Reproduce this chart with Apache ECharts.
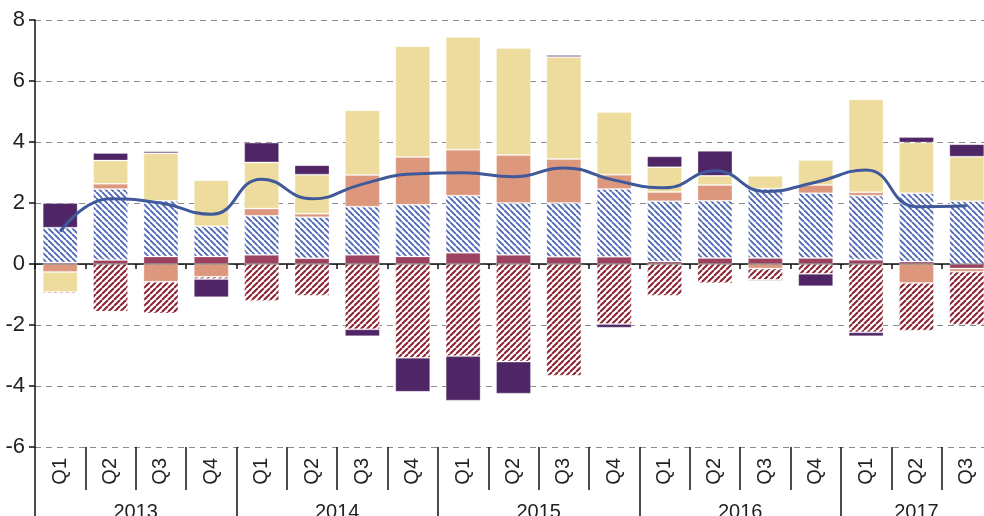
<!DOCTYPE html>
<html>
<head>
<meta charset="utf-8">
<script src="https://cdn.jsdelivr.net/npm/echarts@6/dist/echarts.min.js"></script>
<style>
html,body{margin:0;padding:0;background:#fff;}
#main{width:984px;height:516px;}
</style>
</head>
<body>
<div id="main"></div>
<script>
// quarters 2013Q1 .. 2017Q3
var quarters = ['Q1','Q2','Q3','Q4','Q1','Q2','Q3','Q4','Q1','Q2','Q3','Q4','Q1','Q2','Q3','Q4','Q1','Q2','Q3'];
var years = ['2013','2014','2015','2016','2017'];
var yearQuarters = [4,4,4,4,3];

var solidRed   = [0.05,0.13,0.25,0.25, 0.30,0.19,0.30,0.25, 0.37,0.30,0.24,0.24, 0.08,0.20,0.20,0.20, 0.14,0.08,-0.15];
var blueHatch  = [1.14,2.33,1.82,0.99, 1.28,1.34,1.58,1.69, 1.87,1.70,1.76,2.22, 1.98,1.87,2.27,2.12, 2.10,2.24,2.06];
var salmon     = [-0.26,0.17,-0.58,-0.42, 0.24,0.12,1.04,1.57, 1.51,1.57,1.44,0.47, 0.30,0.52,-0.15,0.27, 0.11,-0.62,-0.10];
var yellow     = [-0.66,0.76,1.56,1.51, 1.51,1.28,2.12,3.63, 3.69,3.51,3.35,2.05, 0.81,0.30,0.42,0.82, 3.05,1.66,1.46];
var redHatch   = [-0.05,-1.56,-1.04,-0.07, -1.21,-1.04,-2.14,-3.07, -3.02,-3.20,-3.66,-1.97, -1.04,-0.63,-0.37,-0.32, -2.24,-1.57,-1.75];
var purple     = [0.81,0.25,0.07,-0.60, 0.65,0.31,-0.23,-1.12, -1.46,-1.05,0.06,-0.12, 0.36,0.82,-0.04,-0.41, -0.13,0.18,0.41];
var total      = [1.06,2.14,2.00,1.63, 2.78,2.14,2.62,2.95, 2.99,2.86,3.15,2.75, 2.50,3.06,2.38,2.68, 3.08,1.88,1.91];

var yMin = -6, yMax = 8, yStep = 2;

// year boundaries and centres, counted in quarters
var yearBounds = [0], yearCenters = [];
for (var i = 0; i < yearQuarters.length; i++) {
	var start = yearBounds[yearBounds.length - 1];
	yearCenters.push(start + yearQuarters[i] / 2);
	yearBounds.push(start + yearQuarters[i]);
}

function hatch(color, size, width, dir) {
	var c = document.createElement('canvas');
	c.width = c.height = size;
	var ctx = c.getContext('2d');
	ctx.fillStyle = '#fff';
	ctx.fillRect(0, 0, size, size);
	ctx.strokeStyle = color;
	ctx.lineWidth = width;
	ctx.beginPath();
	for (var k = -size; k <= size; k += size) {
		if (dir === 'back') { ctx.moveTo(k, 0); ctx.lineTo(k + size, size); }
		else { ctx.moveTo(k, size); ctx.lineTo(k + size, 0); }
	}
	ctx.stroke();
	return {image: c, repeat: 'repeat'};
}

var font = '"Liberation Sans Narrow", "Liberation Sans", sans-serif';
var border = {borderColor: 'rgba(255,255,255,0.3)', borderWidth: 1};

function barSeries(name, data, color) {
	return {
		name: name, type: 'bar', stack: 'total', data: data,
		barWidth: 35, xAxisIndex: 0,
		itemStyle: Object.assign({color: color}, border)
	};
}

var chart = echarts.init(document.getElementById('main'));
var option = {
	animation: false,
	grid: {left: 35, top: 20, width: 957, height: 427, containLabel: false, outerBoundsMode: 'none'},
	xAxis: [
		{
			type: 'category', data: quarters, position: 'bottom',
			axisLine: {onZero: true, lineStyle: {color: '#111', width: 1.5}},
			axisTick: {show: true, interval: 0, length: 5, lineStyle: {color: '#111', width: 1.5}},
			axisLabel: {show: false},
			splitLine: {show: false}
		},
		{
			type: 'category', data: quarters, position: 'bottom',
			axisLine: {show: false, onZero: false},
			axisTick: {show: true, interval: 0, length: 43, lineStyle: {color: '#111', width: 1.5}},
			axisLabel: {interval: 0, rotate: 90, margin: 11, fontSize: 20, fontFamily: font, color: '#222'},
			splitLine: {show: false}
		},
		{
			type: 'value', min: 0, max: quarters.length, position: 'bottom',
			axisLine: {show: false, onZero: false},
			axisTick: {show: true, customValues: yearBounds.slice(0, -1), length: 80, lineStyle: {color: '#111', width: 1.5}},
			axisLabel: {
				customValues: yearCenters, margin: 55, fontSize: 20, fontFamily: font, color: '#222',
				formatter: function(v) { return years[yearCenters.indexOf(v)]; }
			},
			splitLine: {show: false}
		}
	],
	yAxis: {
		type: 'value', min: yMin, max: yMax, interval: yStep,
		axisLine: {show: true, lineStyle: {color: '#111', width: 1.5}},
		axisTick: {show: true, length: 6, lineStyle: {color: '#111', width: 1.5}},
		axisLabel: {margin: 10, fontSize: 22, fontFamily: font, color: '#222'},
		splitLine: {show: true, lineStyle: {color: '#8c8c8c', width: 1, type: [6, 5]}}
	},
	series: [
		barSeries('solid', solidRed, '#9c425f'),
		barSeries('blue', blueHatch, hatch('#4a63b3', 6, 1.8, 'back')),
		barSeries('salmon', salmon, '#dc977d'),
		barSeries('yellow', yellow, '#eedc9e'),
		barSeries('red', redHatch, hatch('#8a2232', 6, 2, 'fwd')),
		barSeries('purple', purple, '#4f2566'),
		{
			name: 'total', type: 'line', data: total, xAxisIndex: 0,
			smooth: true, symbol: 'none', z: 5,
			lineStyle: {color: '#40599a', width: 3}
		}
	]
};
chart.setOption(option);
</script>
</body>
</html>
